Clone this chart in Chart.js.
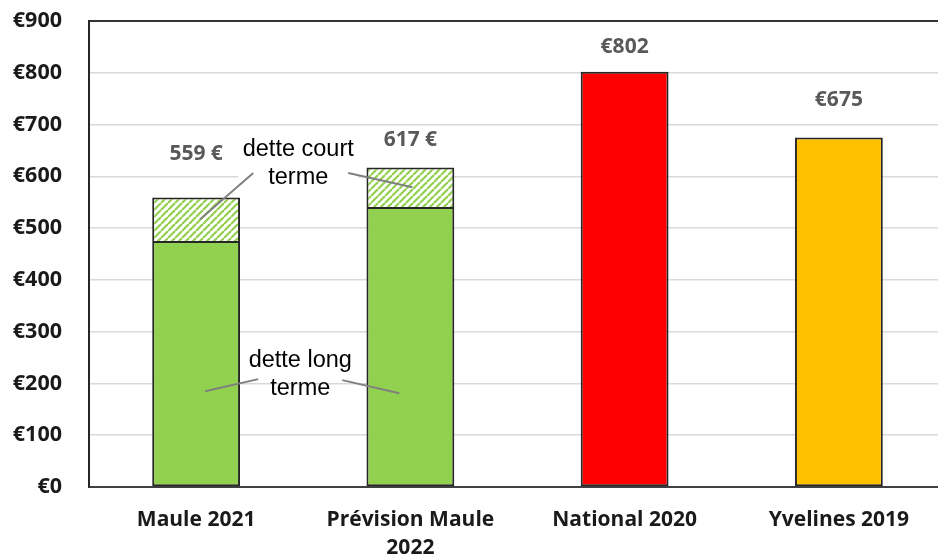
<!DOCTYPE html>
<html>
<head>
<meta charset="utf-8">
<script src="https://cdn.jsdelivr.net/npm/chart.js@4"></script>
<style>
    html, body { margin: 0; background: #fff; overflow: hidden; }
    canvas { display: block; }
</style>
</head>
<body>
<canvas id="debtChart" width="946" height="555"></canvas>
<script>
// Data
const categories = [['Maule 2021'], ['Prévision Maule', '2022'], ['National 2020'], ['Yvelines 2019']];
const mainValues = [475, 541, 802, 675];      // long term debt (Maule) or total
const shortTermValues = [84, 76, 0, 0];       // short term debt (hatched part)
const totalLabels = ['559 €', '617 €', '€802', '€675'];
const yMin = 0;
const yMax = 900;
const yStep = 100;

// Styles
const barColors = ['#92d050', '#92d050', '#ff0000', '#ffc000'];
const labelGaps = [44, 28, 25, 37];
const fontFamily = '"Open Sans", "Liberation Sans", sans-serif';

// Hatch pattern for short term debt
function makeHatch() {
    const c = document.createElement('canvas');
    c.width = 7;
    c.height = 7;
    const g = c.getContext('2d');
    g.fillStyle = '#ffffff';
    g.fillRect(0, 0, 7, 7);
    g.strokeStyle = '#92d050';
    g.lineWidth = 2.2;
    [-7, 0, 7].forEach(off => {
        g.beginPath();
        g.moveTo(off, 7);
        g.lineTo(off + 7, 0);
        g.stroke();
    });
    return g.createPattern(c, 'repeat');
}
const hatch = makeHatch();

// Labels above bars
const totalsPlugin = {
    id: 'totals',
    afterDatasetsDraw(chart) {
        const ctx = chart.ctx;
        const x = chart.scales.x;
        const y = chart.scales.y;
        ctx.save();
        ctx.font = 'bold 21px ' + fontFamily;
        ctx.fillStyle = '#595959';
        ctx.textAlign = 'center';
        ctx.textBaseline = 'middle';
        totalLabels.forEach((txt, i) => {
            const total = mainValues[i] + shortTermValues[i];
            ctx.fillText(txt, x.getPixelForValue(i), y.getPixelForValue(total) - labelGaps[i]);
        });
        ctx.restore();
    }
};

// Callout notes
const notesPlugin = {
    id: 'notes',
    afterDatasetsDraw(chart) {
        const ctx = chart.ctx;
        const x = chart.scales.x;
        const y = chart.scales.y;
        const c0 = x.getPixelForValue(0);
        const c1 = x.getPixelForValue(1);
        const notes = [
            { lines: ['dette court', 'terme'], cx: (c0 + c1) / 2 - 5, top: y.getPixelForValue(651), box: true,
              ptr: [[-45, 23, c0 + 4, y.getPixelForValue(517)], [50, 23, c1 + 2, y.getPixelForValue(579)]] },
            { lines: ['dette long', 'terme'], cx: (c0 + c1) / 2 - 3, top: y.getPixelForValue(245), box: false,
              ptr: [[-42, 19, c0 + 9, y.getPixelForValue(185)], [42, 20, c1 - 11, y.getPixelForValue(181)]] }
        ];
        ctx.save();
        ctx.font = '23.5px "Liberation Sans", Arial, sans-serif';
        ctx.textAlign = 'center';
        ctx.textBaseline = 'middle';
        notes.forEach(n => {
            if (n.box) {
                ctx.fillStyle = '#ffffff';
                ctx.fillRect(n.cx - 60, n.top - 15, 120, 46);
            }
            ctx.strokeStyle = '#808080';
            ctx.lineWidth = 2;
            n.ptr.forEach(p => {
                ctx.beginPath();
                ctx.moveTo(n.cx + p[0], n.top + p[1]);
                ctx.lineTo(p[2], p[3]);
                ctx.stroke();
            });
            ctx.fillStyle = '#000000';
            n.lines.forEach((l, k) => ctx.fillText(l, n.cx, n.top + k * 28));
        });
        ctx.restore();
    }
};

const ctx = document.getElementById('debtChart').getContext('2d');
const debtChart = new Chart(ctx, {
    type: 'bar',
    data: {
        labels: categories,
        datasets: [{
            label: 'base',
            data: mainValues,
            backgroundColor: barColors,
            borderColor: '#262626',
            borderWidth: 2,
            borderSkipped: false,
            barPercentage: 0.41,
            categoryPercentage: 1
        }, {
            label: 'dette court terme',
            data: shortTermValues,
            backgroundColor: hatch,
            borderColor: '#262626',
            borderWidth: shortTermValues.map(v => v > 0 ? 2 : 0),
            borderSkipped: 'bottom',
            barPercentage: 0.41,
            categoryPercentage: 1
        }]
    },
    options: {
        responsive: false,
        animation: false,
        layout: { padding: { top: 21, left: 0, right: 0, bottom: 0 } },
        plugins: {
            legend: { display: false },
            tooltip: { enabled: false }
        },
        scales: {
            x: {
                stacked: true,
                grid: { display: false, drawTicks: false },
                border: { display: true, color: '#404040', width: 2 },
                ticks: {
                    color: '#1a1a1a',
                    padding: 19,
                    maxRotation: 0,
                    font: { family: fontFamily, size: 21, weight: 'bold', lineHeight: 1.34 }
                },
                afterFit(scale) { scale.height = 68; }
            },
            y: {
                stacked: true,
                min: yMin,
                max: yMax,
                border: { display: true, color: '#262626', width: 2 },
                grid: {
                    drawTicks: false,
                    color: c => c.tick.value === yMax ? '#333333' : '#d9d9d9',
                    lineWidth: c => c.tick.value === yMax ? 2 : 1.5
                },
                ticks: {
                    stepSize: yStep,
                    padding: 27,
                    color: '#1a1a1a',
                    font: { family: fontFamily, size: 21.5, weight: 'bold' },
                    callback: v => '€' + v
                },
                afterFit(scale) {
                    scale.width = 89;
                    scale.paddingTop = 0;
                    scale.paddingBottom = 0;
                }
            }
        }
    },
    plugins: [totalsPlugin, notesPlugin]
});
</script>
</body>
</html>
